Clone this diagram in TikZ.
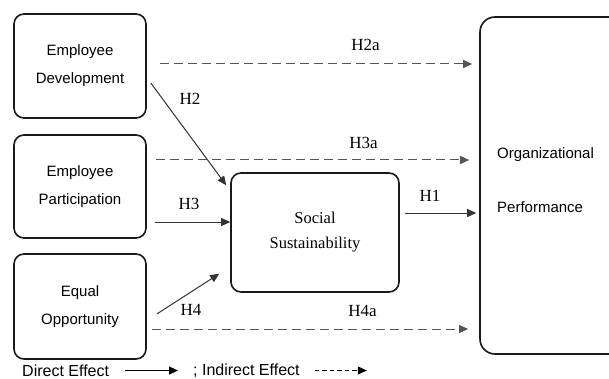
\documentclass[tikz,border=0pt]{standalone}
\usepackage{fontspec}
\setmainfont{Liberation Serif}
\setsansfont{Liberation Sans}
\usetikzlibrary{arrows.meta}
\definecolor{edgegray}{HTML}{333333}
\definecolor{dashgray}{HTML}{555555}
\begin{document}
\begin{tikzpicture}[x=1pt,y=-1pt,
  box/.style={draw=black!90, line width=1.6pt, rounded corners=10pt,
    minimum width=132pt, minimum height=104pt, align=center,
    font=\sffamily\fontsize{15}{28}\selectfont},
  midbox/.style={draw=black!90, line width=1.6pt, rounded corners=10pt,
    minimum width=168pt, minimum height=119pt, align=center,
    font=\rmfamily\fontsize{16.5}{25}\selectfont},
  bigbox/.style={draw=black!90, line width=1.6pt, rounded corners=15pt,
    minimum width=160pt, minimum height=337pt},
  sanslabel/.style={font=\sffamily\fontsize{15}{18}\selectfont, anchor=west, inner sep=0pt},
  hyp/.style={font=\rmfamily\fontsize{17}{20}\selectfont, inner sep=0pt},
  direct/.style={draw=edgegray, line width=1pt, -{Triangle[length=9pt,width=8pt]}},
  indirect/.style={draw=dashgray, line width=1pt, dash pattern=on 9pt off 5pt,
    -{Triangle[length=9pt,width=8pt]}},
  legendind/.style={draw=black, line width=1pt, dash pattern=on 4.5pt off 3pt,
    -{Triangle[length=9pt,width=8pt]}},
  legendtext/.style={font=\sffamily\fontsize{16}{19}\selectfont, anchor=west, inner sep=0pt}
]
\useasboundingbox (0,0) rectangle (609,379);
\clip (0,0) rectangle (609,379);

% constructs
\node[box] (dev) at (80,66) {Employee\\Development};
\node[box, minimum height=103pt] (par) at (80,186.5) {Employee\\Participation};
\node[box, minimum height=105pt] (opp) at (80,306.5) {Equal\\Opportunity};
\node[midbox] (soc) at (315,232.5) {Social\\Sustainability};
\node[bigbox] (org) at (560,185.5) {};
\node[sanslabel] (orgA) at (497,155) {Organizational};
\node[sanslabel] (orgB) at (497,207) {Performance};

% direct effects
\draw[direct] ([xshift=4pt,yshift=-17pt]dev.east) -- ([xshift=-4pt,yshift=-13pt]soc.north west);
\draw[direct] ([xshift=8pt,yshift=-35.5pt]par.east) -- ([yshift=10.5pt]soc.west);
\draw[direct] ([xshift=10pt,yshift=-7.5pt]opp.east) -- ([xshift=-11pt,yshift=19pt]soc.south west);
\draw[direct, shorten >=3pt] ([xshift=5pt,yshift=19.5pt]soc.east) coordinate (h1s) -- (h1s -| org.west);

% indirect effects
\draw[indirect, shorten >=7pt] ([xshift=13pt,yshift=2pt]dev.east) coordinate (h2s) -- (h2s -| org.west);
\draw[indirect, shorten >=10pt] ([xshift=9pt,yshift=26.5pt]par.east) coordinate (h3s) -- (h3s -| org.west);
\draw[indirect, shorten >=11pt] ([xshift=5pt,yshift=-22.5pt]opp.east) coordinate (h4s) -- (h4s -| org.west);

% hypothesis labels
\node[hyp] (lH2) at (190,99) {H2};
\node[hyp] (lH3) at (189,204) {H3};
\node[hyp] (lH4) at (191,310) {H4};
\node[hyp] (lH1) at (430,196) {H1};
\node[hyp] (lH2a) at (365.5,45) {H2a};
\node[hyp] (lH3a) at (363.5,143) {H3a};
\node[hyp] (lH4a) at (362.5,311) {H4a};

% legend
\node[legendtext] (ld) at (22,371) {Direct Effect};
\node[legendtext] (li) at (193,371) {; Indirect Effect};
\draw[direct, draw=black] ([xshift=16pt,yshift=0.5pt]ld.east) -- ([xshift=-15pt,yshift=0.5pt]li.west);
\draw[legendind] ([xshift=15pt,yshift=0.5pt]li.east) coordinate (lis) -- ++(52,0);
\end{tikzpicture}
\end{document}
